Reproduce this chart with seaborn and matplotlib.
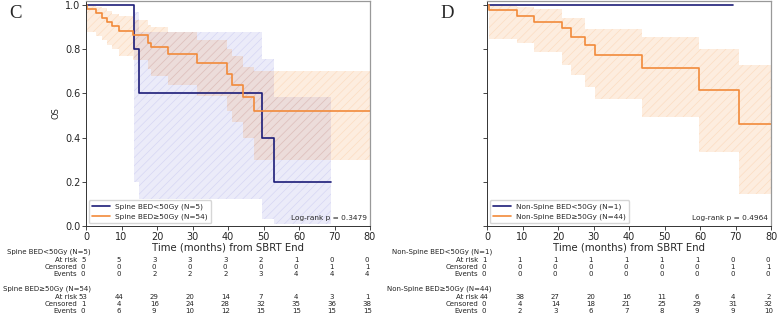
import matplotlib
matplotlib.use("Agg")
import matplotlib.pyplot as plt
import numpy as np
import pandas as pd
import seaborn as sns

# ---- data ----
TICKS = [0, 10, 20, 30, 40, 50, 60, 70, 80]

# panel C: spine
SPINE_LO_LABEL = "Spine BED<50Gy (N=5)"
SPINE_LO_T = [0, 13.6, 15.0, 49.7, 53.0, 69.0]
SPINE_LO_S = [1.0, 0.8, 0.6, 0.4, 0.2, 0.2]
SPINE_LO_LOWER = [1.0, 0.20, 0.12, 0.03, 0.01, 0.01]
SPINE_LO_UPPER = [1.0, 0.97, 0.88, 0.755, 0.585, 0.585]

SPINE_HI_LABEL = "Spine BED≥50Gy (N=54)"
SPINE_HI_T = [0, 0.4, 2.8, 4.4, 5.8, 7.4, 9.4, 13.3, 17.6, 18.2, 23.2, 31.2, 39.6, 41.2, 44.3, 47.4, 80]
SPINE_HI_S = [1.0, 0.982, 0.962, 0.943, 0.923, 0.903, 0.884, 0.864, 0.830, 0.809, 0.778, 0.736, 0.688, 0.638, 0.585, 0.520, 0.520]
SPINE_HI_LOWER = [1.0, 0.88, 0.86, 0.84, 0.82, 0.80, 0.77, 0.75, 0.71, 0.68, 0.64, 0.59, 0.52, 0.47, 0.40, 0.30, 0.30]
SPINE_HI_UPPER = [1.0, 0.997, 0.99, 0.985, 0.975, 0.96, 0.95, 0.93, 0.91, 0.90, 0.88, 0.84, 0.80, 0.77, 0.72, 0.70, 0.70]

SPINE_P = "Log-rank p = 0.3479"

# panel D: non-spine
NS_LO_LABEL = "Non-Spine BED<50Gy (N=1)"
NS_LO_T = [0, 69.2]
NS_LO_S = [1.0, 1.0]

NS_HI_LABEL = "Non-Spine BED≥50Gy (N=44)"
NS_HI_T = [0, 0.5, 8.5, 13.3, 21.0, 23.8, 27.7, 30.4, 43.7, 59.8, 71.0, 80]
NS_HI_S = [1.0, 0.977, 0.952, 0.925, 0.894, 0.856, 0.818, 0.775, 0.717, 0.617, 0.460, 0.460]
NS_HI_LOWER = [1.0, 0.844, 0.826, 0.785, 0.727, 0.682, 0.629, 0.576, 0.495, 0.333, 0.147, 0.147]
NS_HI_UPPER = [1.0, 0.997, 0.99, 0.98, 0.94, 0.94, 0.89, 0.89, 0.856, 0.80, 0.727, 0.727]

NS_P = "Log-rank p = 0.4964"

# risk tables
SPINE_LO_AT_RISK = [5, 5, 3, 3, 3, 2, 1, 0, 0]
SPINE_LO_CENSORED = [0, 0, 0, 0, 0, 0, 0, 1, 1]
SPINE_LO_EVENTS = [0, 0, 2, 2, 2, 3, 4, 4, 4]
SPINE_HI_AT_RISK = [53, 44, 29, 20, 14, 7, 4, 3, 1]
SPINE_HI_CENSORED = [1, 4, 16, 24, 28, 32, 35, 36, 38]
SPINE_HI_EVENTS = [0, 6, 9, 10, 12, 15, 15, 15, 15]

NS_LO_AT_RISK = [1, 1, 1, 1, 1, 1, 1, 0, 0]
NS_LO_CENSORED = [0, 0, 0, 0, 0, 0, 0, 1, 1]
NS_LO_EVENTS = [0, 0, 0, 0, 0, 0, 0, 0, 0]
NS_HI_AT_RISK = [44, 38, 27, 20, 16, 11, 6, 4, 2]
NS_HI_CENSORED = [0, 4, 14, 18, 21, 25, 29, 31, 32]
NS_HI_EVENTS = [0, 2, 3, 6, 7, 8, 9, 9, 10]

BLUE = "#1c1c78"
ORANGE = "#f28a3a"

sns.set_style("ticks")
plt.rcParams["font.family"] = ["DejaVu Sans"]
plt.rcParams["hatch.linewidth"] = 0.5


def draw_band(ax, t, lower, upper, color, a_face, a_hatch):
    face = matplotlib.colors.to_rgba(color, a_face)
    edge = matplotlib.colors.to_rgba(color, a_hatch)
    ax.fill_between(t, lower, upper, step="post", facecolor=face,
                    edgecolor=edge, hatch="////", linewidth=0)


def draw_curves(ax, curves):
    rows = []
    for label, t, s in curves:
        for ti, si in zip(t, s):
            rows.append({"t": ti, "S": si, "group": label})
    df = pd.DataFrame(rows)
    sns.lineplot(data=df, x="t", y="S", hue="group", ax=ax,
                 palette={curves[0][0]: BLUE, curves[1][0]: ORANGE},
                 drawstyle="steps-post", estimator=None, sort=False,
                 linewidth=1.2)
    sns.move_legend(ax, "lower left", title=None, fontsize=5.3,
                    handlelength=2.4, borderaxespad=0.4, frameon=True)


def style_axes(ax, pval):
    ax.set_xlim(0, 80)
    ax.set_ylim(0, 1.018)
    ax.set_xticks(TICKS)
    ax.set_yticks([0, 0.2, 0.4, 0.6, 0.8, 1.0])
    ax.tick_params(labelsize=7, length=3, width=0.6, pad=1)
    for side in ["left", "bottom"]:
        ax.spines[side].set_color("#333333")
        ax.spines[side].set_linewidth(0.7)
    for side in ["top", "right"]:
        ax.spines[side].set_color("#999999")
        ax.spines[side].set_linewidth(0.9)
    ax.set_xlabel("Time (months) from SBRT End", fontsize=7.3, labelpad=1)
    ax.text(0.99, 0.035, pval, transform=ax.transAxes, ha="right",
            va="center", fontsize=5.3)


def risk_table(ax, groups):
    # groups: list of (label, at_risk, censored, events)
    fs = 5.0
    y = -0.116
    for label, at_risk, cens, ev in groups:
        ax.annotate(label, xy=(0, y), xycoords=("data", "axes fraction"),
                    xytext=(3.5, 0), textcoords="offset points",
                    ha="right", va="center", fontsize=fs, color="#222222")
        for k, (name, vals) in enumerate([("At risk", at_risk),
                                           ("Censored", cens),
                                           ("Events", ev)]):
            yy = y - 0.036 - 0.031 * k
            ax.annotate(name, xy=(0, yy), xycoords=("data", "axes fraction"),
                        xytext=(-6.5, 0), textcoords="offset points",
                        ha="right", va="center", fontsize=fs, color="#222222")
            for tk, v in zip(TICKS, vals):
                ax.annotate(str(v), xy=(tk, yy),
                            xycoords=("data", "axes fraction"),
                            xytext=(-2, 0), textcoords="offset points",
                            ha="center", va="center", fontsize=fs,
                            color="#222222")
        y -= 0.163


fig = plt.figure(figsize=(7.78, 3.17), dpi=100)
ax_c = fig.add_axes([86 / 778, 91 / 317, 284 / 778, 225 / 317])
ax_d = fig.add_axes([487 / 778, 91 / 317, 284 / 778, 225 / 317])

# panel C
draw_band(ax_c, SPINE_LO_T, SPINE_LO_LOWER, SPINE_LO_UPPER, "#4a4ad0", 0.11, 0.13)
draw_band(ax_c, SPINE_HI_T, SPINE_HI_LOWER, SPINE_HI_UPPER, "#f5882e", 0.15, 0.16)
draw_curves(ax_c, [(SPINE_LO_LABEL, SPINE_LO_T, SPINE_LO_S),
                   (SPINE_HI_LABEL, SPINE_HI_T, SPINE_HI_S)])
style_axes(ax_c, SPINE_P)
ax_c.set_ylabel("OS", fontsize=6, labelpad=3)
risk_table(ax_c, [(SPINE_LO_LABEL, SPINE_LO_AT_RISK, SPINE_LO_CENSORED, SPINE_LO_EVENTS),
                  (SPINE_HI_LABEL, SPINE_HI_AT_RISK, SPINE_HI_CENSORED, SPINE_HI_EVENTS)])

# panel D
draw_band(ax_d, NS_HI_T, NS_HI_LOWER, NS_HI_UPPER, "#f5882e", 0.15, 0.16)
draw_curves(ax_d, [(NS_LO_LABEL, NS_LO_T, NS_LO_S),
                   (NS_HI_LABEL, NS_HI_T, NS_HI_S)])
style_axes(ax_d, NS_P)
ax_d.set_ylabel("")
ax_d.tick_params(labelleft=False)
risk_table(ax_d, [(NS_LO_LABEL, NS_LO_AT_RISK, NS_LO_CENSORED, NS_LO_EVENTS),
                  (NS_HI_LABEL, NS_HI_AT_RISK, NS_HI_CENSORED, NS_HI_EVENTS)])

# panel letters
fig.text(15 / 778, 1 - 14 / 317, "C", family=["Liberation Serif"], fontsize=13.5,
         ha="center", va="center")
fig.text(447 / 778, 1 - 14 / 317, "D", family=["Liberation Serif"], fontsize=13.5,
         ha="center", va="center")

fig.savefig("out.png", dpi=100)
